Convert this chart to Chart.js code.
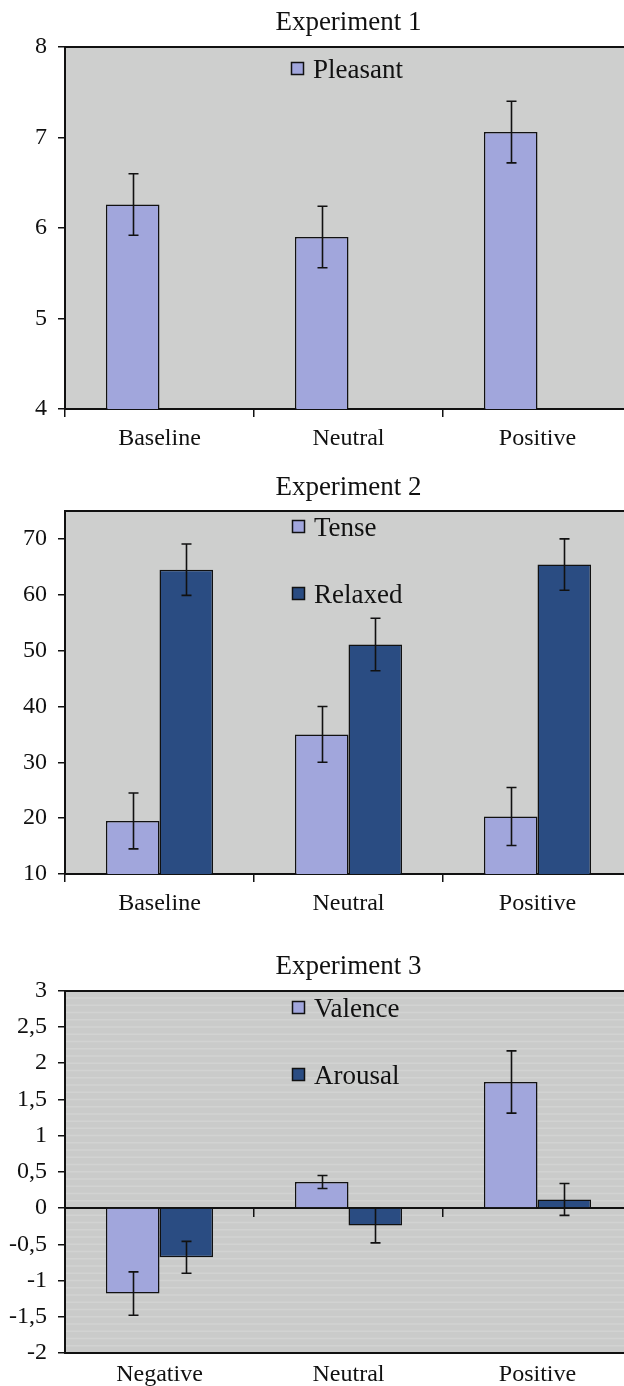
<!DOCTYPE html>
<html>
<head>
<meta charset="utf-8">
<script src="https://cdn.jsdelivr.net/npm/chart.js@4.4.1/dist/chart.umd.min.js"></script>
<style>
html, body { margin: 0; padding: 0; background: #ffffff; overflow: hidden; width: 624px; height: 1386px; }
.box { position: absolute; left: 0; width: 632px; }
</style>
</head>
<body>
<div class="box" style="top:0px;height:455px"><canvas id="c1"></canvas></div>
<div class="box" style="top:460px;height:460px"><canvas id="c2"></canvas></div>
<div class="box" style="top:930px;height:456px"><canvas id="c3"></canvas></div>
<script>
// ---------- data ----------
const categories12 = ['Baseline', 'Neutral', 'Positive'];
const categories3 = ['Negative', 'Neutral', 'Positive'];

const pleasant = [6.26, 5.90, 7.06];
const pleasantErr = [0.34, 0.34, 0.34];

const tense = [19.5, 35.0, 20.3];
const tenseErr = [5.0, 5.0, 5.2];
const relaxed = [64.5, 51.1, 65.4];
const relaxedErr = [4.6, 4.7, 4.6];

const valence = [-1.18, 0.36, 1.74];
const valenceErr = [0.30, 0.09, 0.43];
const arousal = [-0.68, -0.24, 0.12];
const arousalErr = [0.22, 0.24, 0.22];

const yTicks1 = [4, 5, 6, 7, 8];
const yTicks2 = [10, 20, 30, 40, 50, 60, 70];
const yTicks3 = [-2, -1.5, -1, -0.5, 0, 0.5, 1, 1.5, 2, 2.5, 3];

// ---------- styling ----------
const SERIF = "'Liberation Serif', 'Times New Roman', serif";
const INK = '#111111';
const LIGHT = '#a1a6dc';
const DARK = '#2a4c82';
Chart.defaults.font.family = SERIF;
Chart.defaults.color = INK;

const bgPlugin = {
  id: 'plotBg',
  beforeDraw(chart, args, opts) {
    const { ctx, chartArea: a } = chart;
    ctx.save();
    ctx.fillStyle = opts.color;
    ctx.fillRect(a.left, a.top, a.right - a.left, a.bottom - a.top);
    if (opts.stripeStep) {
      const ys = chart.scales.y;
      ctx.strokeStyle = opts.stripeColor;
      ctx.lineWidth = 1.5;
      const n = Math.round((ys.max - ys.min) / opts.stripeStep);
      for (let i = 1; i < n; i++) {
        const py = ys.getPixelForValue(ys.min + i * opts.stripeStep);
        ctx.beginPath(); ctx.moveTo(a.left, py); ctx.lineTo(a.right, py); ctx.stroke();
      }
    }
    ctx.restore();
  }
};

const errPlugin = {
  id: 'errBars',
  afterDatasetsDraw(chart) {
    const { ctx } = chart;
    const ys = chart.scales.y;
    const cap = 5;
    ctx.save();
    ctx.strokeStyle = INK;
    ctx.lineWidth = 1.6;
    chart.data.datasets.forEach((ds, i) => {
      if (!ds.errors) return;
      const meta = chart.getDatasetMeta(i);
      meta.data.forEach((bar, j) => {
        const v = ds.data[j], e = ds.errors[j];
        if (v == null || e == null) return;
        const x = Math.round(bar.x) + 0.5;
        const y1 = ys.getPixelForValue(v + e);
        const y2 = ys.getPixelForValue(v - e);
        ctx.beginPath();
        ctx.moveTo(x, y1); ctx.lineTo(x, y2);
        ctx.moveTo(x - cap, y1); ctx.lineTo(x + cap, y1);
        ctx.moveTo(x - cap, y2); ctx.lineTo(x + cap, y2);
        ctx.stroke();
      });
    });
    ctx.restore();
  }
};

const legendPlugin = {
  id: 'boxLegend',
  afterDraw(chart, args, opts) {
    const { ctx } = chart;
    ctx.save();
    ctx.font = '27px ' + SERIF;
    ctx.textBaseline = 'alphabetic';
    ctx.textAlign = 'left';
    let y = opts.y;
    chart.data.datasets.forEach(ds => {
      if (!ds.label) return;
      ctx.fillStyle = ds.backgroundColor;
      ctx.fillRect(opts.x, y, 13, 13);
      ctx.strokeStyle = INK;
      ctx.lineWidth = 1.5;
      ctx.strokeRect(opts.x + 0.5, y + 0.5, 12, 12);
      ctx.fillStyle = INK;
      ctx.fillText(ds.label, opts.x + 22, y + 16);
      y += opts.step;
    });
    ctx.restore();
  }
};

function fmt(v) { return String(v).replace('.', ','); }

function makeChart(id, p) {
  const scales = {
    xTop: {
      type: 'category', axis: 'x', position: 'top', offset: true,
      grid: { display: true, drawOnChartArea: false, drawTicks: false },
      ticks: { display: false },
      border: { display: true, color: INK, width: 2 }
    },
    y: {
      type: 'linear', position: 'left', min: p.min, max: p.max,
      afterBuildTicks: s => { s.ticks = p.yTicks.map(v => ({ value: v })); },
      ticks: { color: INK, font: { size: 24 }, padding: 11, callback: v => fmt(v) },
      grid: { drawOnChartArea: false, tickLength: 7, color: INK, lineWidth: 1.5 },
      border: { display: true, color: INK, width: 2 },
      afterFit: s => { s.width = 65; }
    }
  };
  if (p.zeroAxis) {
    scales.x = {
      type: 'category', axis: 'x', position: { y: 0 }, offset: true,
      grid: { display: true, drawOnChartArea: false, offset: true, tickLength: 8, color: INK, lineWidth: 1.5 },
      ticks: { display: false },
      border: { display: true, color: INK, width: 2 }
    };
    scales.x2 = {
      type: 'category', axis: 'x', position: 'bottom', offset: true,
      grid: { display: true, drawOnChartArea: false, drawTicks: false },
      ticks: { color: INK, font: { size: 24 }, padding: 7 },
      border: { display: true, color: INK, width: 2 },
      afterFit: s => { s.height = p.xh; }
    };
  } else {
    scales.x = {
      type: 'category', axis: 'x', position: 'bottom', offset: true,
      grid: { display: true, drawOnChartArea: false, offset: true, tickLength: 8, color: INK, lineWidth: 1.5 },
      ticks: { color: INK, font: { size: 24 }, padding: 7 },
      border: { display: true, color: INK, width: 2 },
      afterFit: s => { s.height = p.xh; }
    };
  }
  return new Chart(document.getElementById(id), {
    type: 'bar',
    data: {
      labels: p.labels,
      datasets: p.datasets.map(d => Object.assign({
        xAxisID: 'x', yAxisID: 'y',
        borderColor: INK, borderWidth: 1.5,
        barPercentage: 1.0, categoryPercentage: 0.567
      }, d))
    },
    options: {
      responsive: true, maintainAspectRatio: false, animation: false,
      devicePixelRatio: 1,
      layout: { padding: 0 },
      plugins: {
        legend: { display: false },
        tooltip: { enabled: false },
        title: {
          display: true, text: p.title, color: INK, fullSize: false,
          font: { size: 27, family: SERIF, weight: 'normal', lineHeight: 1.2 },
          padding: { top: p.tp, bottom: p.tb }
        },
        plotBg: p.bg,
        boxLegend: p.legend
      },
      scales: scales
    },
    plugins: [bgPlugin, errPlugin, legendPlugin]
  });
}

makeChart('c1', {
  title: 'Experiment 1', tp: 6.8, tb: 7.8, xh: 46,
  labels: categories12, min: 4, max: 8, yTicks: yTicks1,
  bg: { color: '#cecfce' },
  legend: { x: 291, y: 62, step: 67 },
  datasets: [
    { label: 'Pleasant', data: pleasant, errors: pleasantErr, backgroundColor: LIGHT },
    { label: '', data: [null, null, null], backgroundColor: DARK }
  ]
});

makeChart('c2', {
  title: 'Experiment 2', tp: 11.8, tb: 6.8, xh: 46,
  labels: categories12, min: 10, max: 75, yTicks: yTicks2,
  bg: { color: '#cecfce' },
  legend: { x: 292, y: 60, step: 67 },
  datasets: [
    { label: 'Tense', data: tense, errors: tenseErr, backgroundColor: LIGHT },
    { label: 'Relaxed', data: relaxed, errors: relaxedErr, backgroundColor: DARK }
  ]
});

makeChart('c3', {
  title: 'Experiment 3', tp: 20.8, tb: 7.5, xh: 33, zeroAxis: true,
  labels: categories3, min: -2, max: 3, yTicks: yTicks3,
  bg: { color: '#cacbca', stripeStep: 0.1, stripeColor: '#d2d3d2' },
  legend: { x: 292, y: 71, step: 67 },
  datasets: [
    { label: 'Valence', data: valence, errors: valenceErr, backgroundColor: LIGHT },
    { label: 'Arousal', data: arousal, errors: arousalErr, backgroundColor: DARK }
  ]
});
</script>
</body>
</html>
